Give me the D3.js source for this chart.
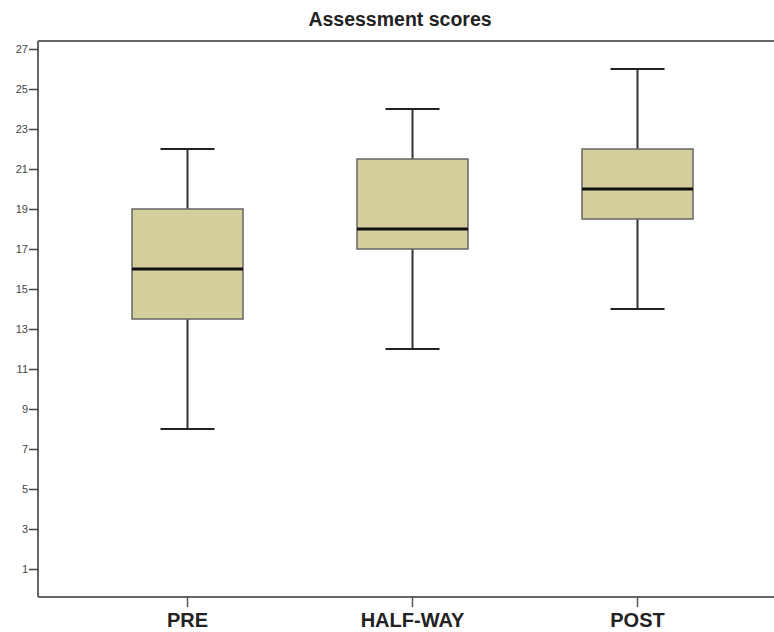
<!DOCTYPE html>
<html>
<head>
<meta charset="utf-8">
<script src="https://cdn.jsdelivr.net/npm/d3@7"></script>
<style>
  html, body { margin: 0; padding: 0; background: #fff; }
  svg { display: block; }
</style>
</head>
<body>
<svg id="chart" width="774" height="632"></svg>
<script>
// Assessment score summaries per stage
const categories = ["PRE", "HALF-WAY", "POST"];
const whiskerLow  = [8, 12, 14];
const quartile1   = [13.5, 17, 18.5];
const medians     = [16, 18, 20];
const quartile3   = [19, 21.5, 22];
const whiskerHigh = [22, 24, 26];
const yTicks = [1, 3, 5, 7, 9, 11, 13, 15, 17, 19, 21, 23, 25, 27];

const boxes = categories.map((c, i) => ({
  cat: c, lo: whiskerLow[i], q1: quartile1[i], med: medians[i], q3: quartile3[i], hi: whiskerHigh[i]
}));

const svg = d3.select("#chart");
const plotLeft = 38, plotTop = 41, plotBottom = 597, plotRight = 780;
const font = "Arial, 'Liberation Sans', sans-serif";

const y = d3.scaleLinear().domain([-0.4, 27.4]).range([plotBottom, plotTop]);
const x = d3.scaleBand().domain(categories).range([75, 750]);

const boxW = 111, capW = 54;

// top frame line
svg.append("line").attr("x1", plotLeft).attr("x2", plotRight).attr("y1", plotTop).attr("y2", plotTop)
  .attr("stroke", "#666").attr("stroke-width", 2);

// y axis
const yAxis = d3.axisLeft(y).tickValues(yTicks).tickSize(9).tickPadding(1).tickFormat(d3.format("d"));
const gy = svg.append("g").attr("transform", `translate(${plotLeft},0)`).call(yAxis);
gy.select(".domain").attr("stroke", "#666").attr("stroke-width", 2).attr("d", `M0,${plotTop}V${plotBottom}`);
gy.selectAll(".tick line").attr("stroke", "#444").attr("stroke-width", 1.5);
gy.selectAll(".tick text").attr("fill", "#444").attr("font-family", font).attr("font-size", 11);

// x axis
const xAxis = d3.axisBottom(x).tickSize(10).tickPadding(5);
const gx = svg.append("g").attr("transform", `translate(0,${plotBottom})`).call(xAxis);
gx.select(".domain").attr("stroke", "#666").attr("stroke-width", 2).attr("d", `M${plotLeft},0H${plotRight}`);
gx.selectAll(".tick line").attr("stroke", "#555").attr("stroke-width", 1.5);
gx.selectAll(".tick text").attr("fill", "#222").attr("font-family", font)
  .attr("font-size", 20).attr("font-weight", "bold").attr("dy", null).attr("y", 30);

// boxes
const g = svg.append("g");
const b = g.selectAll("g.box").data(boxes).join("g").attr("class", "box")
  .attr("transform", d => `translate(${x(d.cat) + x.bandwidth() / 2},0)`);

// whisker stems
b.append("line").attr("x1", 0).attr("x2", 0).attr("y1", d => y(d.hi)).attr("y2", d => y(d.q3))
  .attr("stroke", "#333").attr("stroke-width", 2);
b.append("line").attr("x1", 0).attr("x2", 0).attr("y1", d => y(d.q1)).attr("y2", d => y(d.lo))
  .attr("stroke", "#333").attr("stroke-width", 2);
// caps
b.append("line").attr("x1", -capW / 2).attr("x2", capW / 2).attr("y1", d => y(d.hi)).attr("y2", d => y(d.hi))
  .attr("stroke", "#222").attr("stroke-width", 2);
b.append("line").attr("x1", -capW / 2).attr("x2", capW / 2).attr("y1", d => y(d.lo)).attr("y2", d => y(d.lo))
  .attr("stroke", "#222").attr("stroke-width", 2);
// box
b.append("rect").attr("x", -boxW / 2).attr("width", boxW)
  .attr("y", d => y(d.q3)).attr("height", d => y(d.q1) - y(d.q3))
  .attr("fill", "#d3ce9a").attr("stroke", "#666").attr("stroke-width", 1.5);
// median
b.append("line").attr("x1", -boxW / 2).attr("x2", boxW / 2).attr("y1", d => y(d.med)).attr("y2", d => y(d.med))
  .attr("stroke", "#111").attr("stroke-width", 3);

// title
svg.append("text").attr("x", 400).attr("y", 26).attr("text-anchor", "middle")
  .attr("font-family", font).attr("font-size", 19.5).attr("font-weight", "bold")
  .attr("fill", "#222").text("Assessment scores");
</script>
</body>
</html>
